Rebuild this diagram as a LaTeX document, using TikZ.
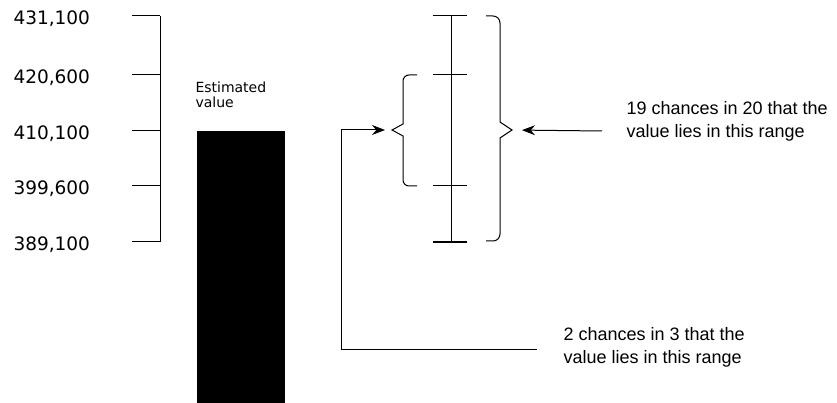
\documentclass[tikz,border=0pt]{standalone}
\usepackage{fontspec}
\setmainfont{Liberation Sans}
\newfontfamily\numfont{DejaVu Sans}
\usetikzlibrary{arrows.meta}
\tikzset{
  arr/.style={-{Stealth[length=13pt,width=10pt]}},
  scalelab/.style={anchor=west,inner sep=0pt,font=\numfont\fontsize{18.5}{22}\selectfont},
  note/.style={anchor=west,inner sep=0pt,align=left,font=\fontsize{18}{23}\selectfont},
}
\begin{document}
\begin{tikzpicture}[x=1pt,y=-1pt,line width=1pt]
    \useasboundingbox (0,0) rectangle (837,403);
    % scale on the left
    \draw (160,16) -- (160,242);
    \foreach \y/\lab in {16/{431,100},75/{420,600},131/{410,100},186/{399,600},242/{389,100}} {
        \draw (132,\y) -- (160,\y);
        \node[scalelab] (v\y) at (13,{\y+3}) {\lab};
    }
    % estimate
    \node[anchor=north west,inner sep=0pt,align=left,font=\numfont\fontsize{14}{15}\selectfont] (est) at (195,81) {Estimated\\value};
    \fill (197,131) rectangle (285,403);
    % range bar
    \draw (451,16) -- (451,242);
    \foreach \y in {16,75,186} \draw (433,\y) -- (467,\y);
    \draw[line width=2.5pt] (433,242) -- (467,242);
    % braces
    \coordinate (stip) at (392,130);
    \coordinate (btip) at (512,130);
    \draw (417,75) -- (409,75) to[out=180,in=90] (403,81) -- (403,124) -- (stip)
        -- (403,136) -- (403,180) to[out=-90,in=180] (409,186) -- (417,186);
    \draw (486,16) -- (493,16) to[out=0,in=90] (500,23) -- (500,122) -- (btip)
        -- (500,138) -- (500,234) to[out=-90,in=0] (493,241) -- (486,241);
    % notes
    \node[note] (hi) at (626,121) {19 chances in 20 that the\\value lies in this range};
    \node[note] (lo) at (563,347) {2 chances in 3 that the\\value lies in this range};
    \coordinate (hiend) at (602,131);
    \coordinate (loend) at (537,349);
    \coordinate (bend) at (341,130);
    \draw[arr,shorten >=10pt] (hiend) -- (btip);
    \draw[arr,shorten >=7pt] (loend) -| (bend) -- (stip);
\end{tikzpicture}
\end{document}
